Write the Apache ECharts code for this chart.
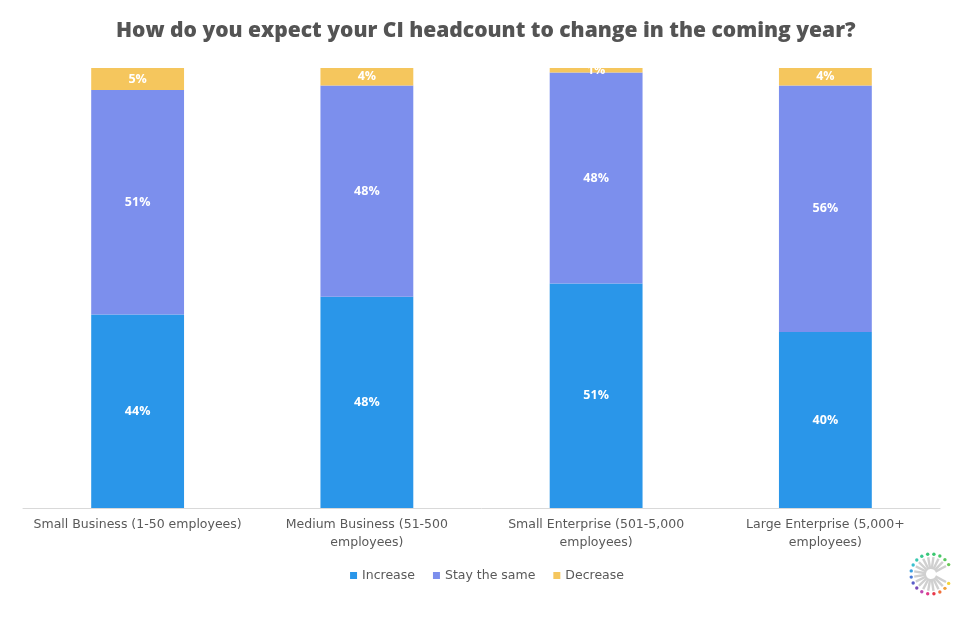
<!DOCTYPE html>
<html>
<head>
<meta charset="utf-8">
<script src="https://cdn.jsdelivr.net/npm/echarts@6/dist/echarts.min.js"></script>
<style>html,body{margin:0;padding:0;background:#fff;}#c{width:974px;height:618px;}</style>
</head>
<body>
<div id="c"></div>
<script>
const categories = [
  'Small Business (1-50 employees)',
  'Medium Business (51-500\nemployees)',
  'Small Enterprise (501-5,000\nemployees)',
  'Large Enterprise (5,000+\nemployees)'
];
const increase = [44, 48, 51, 40];
const staySame = [51, 48, 48, 56];
const decrease = [5, 4, 1, 4];

const chart = echarts.init(document.getElementById('c'));

// decorative logo (bottom right)
const logo = [];
const cx = 931, cy = 574;
const dotColors = ['#f2d43a','#f2a23a','#f0703a','#e8384a','#e03a8a','#c04ab0','#7a4ab8','#5a5ec8','#4a7ad8','#3aa0e0','#3ac0d0','#3ac8b0','#3ac890','#3ac878','#3ac870','#4ac868','#5ac860','#6ac858'];
const n = dotColors.length;
for (let i = 0; i < n; i++) {
  const ang = (28 + i * (304 / (n - 1))) * Math.PI / 180;
  const cs = Math.cos(ang), sn = Math.sin(ang);
  logo.push({type:'line', silent:true, shape:{x1:cx+cs*5, y1:cy+sn*5, x2:cx+cs*17, y2:cy+sn*17}, style:{stroke:'#d0d0d0', lineWidth:2.4}});
  logo.push({type:'circle', silent:true, shape:{cx:cx+cs*20, cy:cy+sn*20, r:1.7}, style:{fill:dotColors[i]}});
}

const labelStyle = {show:true, color:'#fff', fontWeight:'bold', fontSize:12.5, fontFamily:'Open Sans', formatter: p => p.value + '%'};

chart.setOption({
  animation:false,
  title:{
    text:'How do you expect your CI headcount to change in the coming year?',
    left:111, top:16,
    textStyle:{fontSize:21, fontWeight:800, color:'#545454', fontFamily:'Open Sans'}
  },
  legend:{
    bottom:31, left:'center', itemWidth:7, itemHeight:7, itemGap:18,
    icon:'rect',
    textStyle:{fontSize:12.5, color:'#595959', fontFamily:'DejaVu Sans'},
    data:['Increase','Stay the same','Decrease']
  },
  grid:{left:23, right:34, top:68, bottom:110},
  xAxis:{
    type:'category', data:categories,
    axisLine:{lineStyle:{color:'#d9d9d9', width:1}},
    axisTick:{show:false},
    axisLabel:{color:'#595959', fontSize:12.5, fontFamily:'DejaVu Sans', margin:8, lineHeight:18, interval:0}
  },
  yAxis:{type:'value', min:0, max:100, show:false, splitLine:{show:false}},
  series:[
    {name:'Increase', type:'bar', stack:'a', data:increase, barWidth:'40.5%', itemStyle:{color:'#2a96e9'}, label:labelStyle},
    {name:'Stay the same', type:'bar', stack:'a', data:staySame, itemStyle:{color:'#7c8fed'}, label:labelStyle},
    {name:'Decrease', type:'bar', stack:'a', data:decrease, itemStyle:{color:'#f5c65d'}, label:labelStyle}
  ],
  graphic: logo
});
</script>
</body>
</html>
